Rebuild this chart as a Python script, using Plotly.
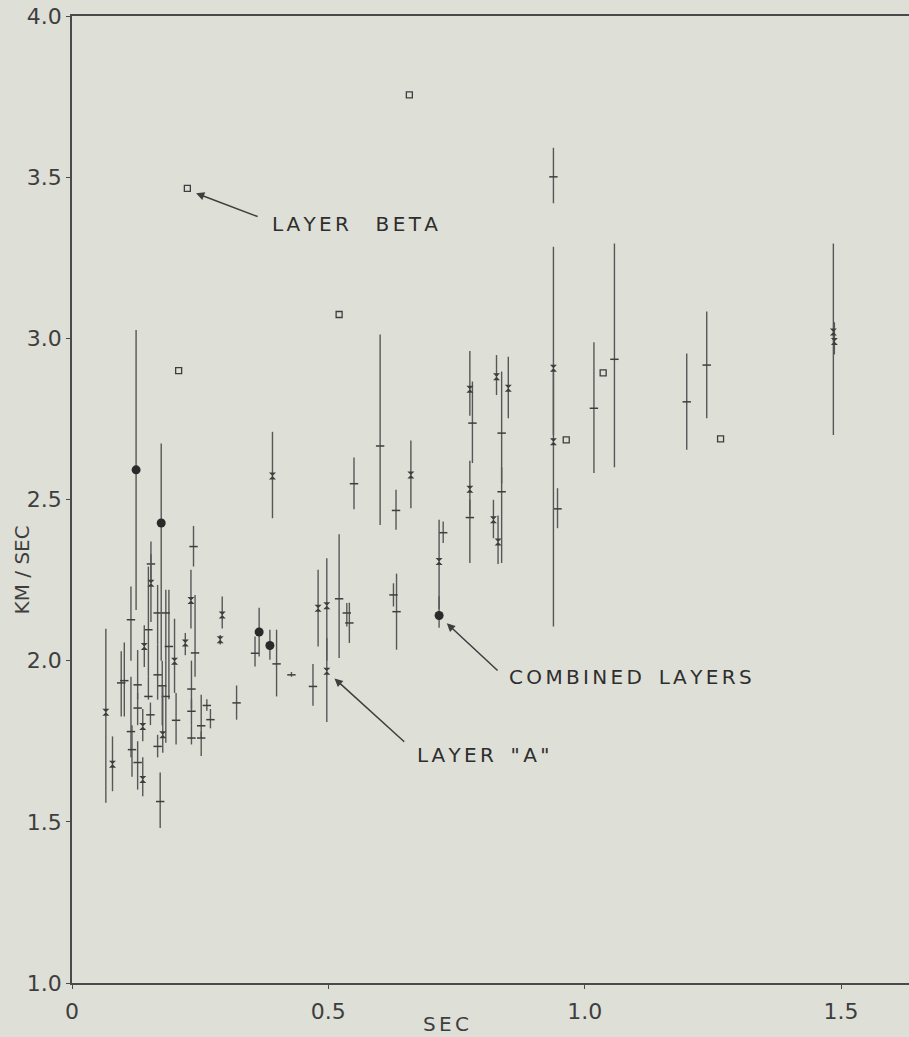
import plotly.graph_objects as go

# ---- data: travel time (sec) vs velocity (km/sec) ----
# "+" readings: time, velocity, upper and lower limits of the bar
plus_sec = [0.096, 0.102, 0.115, 0.115, 0.117, 0.128, 0.128, 0.128, 0.149, 0.149,
            0.153, 0.154, 0.167, 0.167, 0.167, 0.172, 0.176, 0.183, 0.183, 0.189,
            0.203, 0.233, 0.233, 0.233, 0.240, 0.237, 0.252, 0.252, 0.263, 0.270,
            0.321, 0.357, 0.399, 0.428, 0.470, 0.521, 0.536, 0.541, 0.550, 0.601,
            0.627, 0.633, 0.632, 0.724, 0.781, 0.776, 0.838, 0.838, 0.939, 0.947,
            1.018, 1.058, 1.199, 1.238]
plus_kms = [1.931, 1.938, 2.127, 1.780, 1.724, 1.925, 1.853, 1.684, 2.096, 1.889,
            1.832, 2.300, 2.148, 1.956, 1.734, 1.563, 1.922, 2.148, 1.889, 2.044,
            1.815, 1.912, 1.843, 1.760, 2.024, 2.354, 1.798, 1.760, 1.861, 1.817,
            1.869, 2.023, 1.990, 1.956, 1.920, 2.192, 2.148, 2.117, 2.549, 2.666,
            2.204, 2.152, 2.466, 2.397, 2.737, 2.444, 2.706, 2.524, 3.501, 2.471,
            2.783, 2.935, 2.803, 2.917]
plus_hi = [2.029, 2.056, 2.230, 1.950, 1.800, 2.033, 1.900, 1.750, 2.292, 1.950,
           1.870, 2.370, 2.235, 2.050, 1.770, 1.653, 2.000, 2.220, 2.000, 2.220,
           1.900, 2.000, 1.880, 1.800, 2.204, 2.418, 1.894, 1.780, 1.880, 1.850,
           1.923, 2.075, 2.096, 1.965, 1.990, 2.392, 2.179, 2.180, 2.630, 3.012,
           2.240, 2.270, 2.530, 2.432, 2.866, 2.500, 2.897, 2.600, 3.591, 2.535,
           2.988, 3.294, 2.953, 3.083]
plus_lo = [1.827, 1.827, 2.000, 1.700, 1.640, 1.880, 1.800, 1.600, 1.950, 1.879,
           1.800, 2.250, 2.050, 1.879, 1.700, 1.481, 1.800, 2.000, 1.745, 1.880,
           1.740, 1.850, 1.800, 1.740, 1.950, 2.292, 1.760, 1.704, 1.845, 1.790,
           1.817, 1.982, 1.889, 1.950, 1.860, 2.008, 2.106, 2.055, 2.470, 2.421,
           2.168, 2.034, 2.406, 2.365, 2.613, 2.303, 2.550, 2.303, 3.419, 2.411,
           2.582, 2.600, 2.654, 2.752]

# hourglass readings
hg_sec = [0.066, 0.079, 0.138, 0.138, 0.141, 0.154, 0.177, 0.200, 0.221, 0.232,
          0.289, 0.293, 0.391, 0.480, 0.497, 0.497, 0.661, 0.716, 0.776, 0.776,
          0.828, 0.851, 0.822, 0.831, 0.939, 0.939, 1.485, 1.487]
hg_kms = [1.840, 1.679, 1.796, 1.631, 2.044, 2.240, 1.770, 1.998, 2.055, 2.187,
          2.065, 2.142, 2.573, 2.163, 2.170, 1.967, 2.576, 2.308, 2.842, 2.532,
          2.881, 2.845, 2.437, 2.368, 2.907, 2.679, 3.020, 2.990]
hg_hi = [2.099, 1.765, 1.850, 1.700, 2.110, 2.330, 1.920, 2.130, 2.086, 2.282,
         2.080, 2.199, 2.710, 2.282, 2.318, 2.070, 2.683, 2.437, 2.961, 2.620,
         2.948, 2.943, 2.499, 2.450, 3.284, 2.900, 3.294, 3.050]
hg_lo = [1.559, 1.595, 1.750, 1.579, 1.980, 2.120, 1.714, 1.900, 2.017, 2.100,
         2.050, 2.100, 2.442, 2.044, 2.000, 1.810, 2.473, 2.160, 2.760, 2.450,
         2.824, 2.752, 2.380, 2.300, 2.700, 2.106, 2.700, 2.950]

# combined layers (filled circles)
comb_sec = [0.125, 0.174, 0.365, 0.386, 0.716]
comb_kms = [2.592, 2.427, 2.089, 2.047, 2.140]
comb_hi = [3.026, 2.674, 2.164, 2.096, 2.200]
comb_lo = [2.157, 2.000, 2.013, 2.003, 2.102]

# layer beta (open squares)
beta_sec = [0.225, 0.208, 0.521, 0.658, 0.964, 1.036, 1.265]
beta_kms = [3.465, 2.900, 3.074, 3.755, 2.685, 2.893, 2.688]

# axis ticks
x_ticks = [0, 0.5, 1.0, 1.5]
x_tick_text = ["0", "0.5", "1.0", "1.5"]
y_ticks = [1.0, 1.5, 2.0, 2.5, 3.0, 3.5, 4.0]

INK = "#3e3e3e"
BAR = "#575757"
BG = "#dedfd7"
FONT = "DejaVu Sans"
SP = "\u2006"   # narrow letter spacing for the lettered labels
EN = "\u2002"   # word gap
EM = "\u2003"   # wide word gap


def spaced(*words, gap=EN):
    return (SP + gap + SP).join(SP.join(w) for w in words)


def bars(vals, hi, lo):
    return dict(type="data", symmetric=False,
                array=[h - v for v, h in zip(vals, hi)],
                arrayminus=[v - l for v, l in zip(vals, lo)],
                width=0, thickness=1.4, color=BAR)


fig = go.Figure()

fig.add_trace(go.Scatter(
    x=plus_sec, y=plus_kms, mode="markers",
    error_y=bars(plus_kms, plus_hi, plus_lo),
    marker=dict(symbol="line-ew", size=6, color=INK, line=dict(width=1.5, color=INK)),
    showlegend=False))

fig.add_trace(go.Scatter(
    x=hg_sec, y=hg_kms, mode="markers",
    error_y=bars(hg_kms, hg_hi, hg_lo),
    marker=dict(symbol="hourglass", size=7, color=INK, line=dict(width=0)),
    showlegend=False))

fig.add_trace(go.Scatter(
    x=comb_sec, y=comb_kms, mode="markers",
    error_y=bars(comb_kms, comb_hi, comb_lo),
    marker=dict(symbol="circle", size=9, color="#2a2a2a", line=dict(width=0)),
    showlegend=False))

fig.add_trace(go.Scatter(
    x=beta_sec, y=beta_kms, mode="markers",
    marker=dict(symbol="square-open", size=6, color=INK, line=dict(width=1.3, color=INK)),
    showlegend=False))

label_font = dict(family=FONT, size=20, color="#2e2e2e")

annotations = [
    # labels
    dict(x=0.386, y=3.355, xref="x", yref="y",
         text=spaced("LAYER", "BETA", gap=EM), showarrow=False,
         xanchor="left", yanchor="middle", font=label_font),
    dict(x=0.848, y=1.950, xref="x", yref="y",
         text=spaced("COMBINED", "LAYERS"), showarrow=False,
         xanchor="left", yanchor="middle", font=label_font),
    dict(x=0.669, y=1.707, xref="x", yref="y",
         text=spaced("LAYER", "\"A\""), showarrow=False,
         xanchor="left", yanchor="middle", font=label_font),
    # axis titles
    dict(x=0.73, y=-0.0424, xref="x", yref="paper", text=spaced("SEC"), showarrow=False,
         xanchor="center", yanchor="middle", font=dict(family=FONT, size=20, color=INK)),
    dict(x=0, y=2.28, xref="paper", yref="y", xshift=-50, text="KM / SEC",
         showarrow=False, textangle=-90, xanchor="center", yanchor="middle",
         font=dict(family=FONT, size=20, color=INK)),
]

# pointer arrows: head near the mark, tail at the label
arrows = [
    (0.242, 3.450, 0.365, 3.376),
    (0.731, 2.116, 0.833, 1.965),
    (0.512, 1.945, 0.651, 1.744),
]
for hx, hy, tx, ty in arrows:
    annotations.append(dict(x=hx, y=hy, ax=tx, ay=ty, xref="x", yref="y",
                            axref="x", ayref="y", text="", showarrow=True,
                            arrowhead=2, arrowsize=1.1, arrowwidth=1.5,
                            arrowcolor=INK))

fig.update_layout(
    width=909, height=1037,
    margin=dict(l=72, r=0, t=16, b=54),
    paper_bgcolor=BG, plot_bgcolor=BG,
    annotations=annotations,
    xaxis=dict(range=[0, 837 / 512.7], tickvals=x_ticks, ticktext=x_tick_text,
               showgrid=False, zeroline=False, showline=True, linecolor="#4a4a4a",
               linewidth=1.5, mirror=True, ticks="outside", ticklen=4,
               tickcolor="#4a4a4a", ticklabelstandoff=4,
               tickfont=dict(family=FONT, size=22, color=INK)),
    yaxis=dict(range=[1.0, 4.0], tickvals=y_ticks, tickformat=".1f",
               showgrid=False, zeroline=False, showline=True, linecolor="#4a4a4a",
               linewidth=1.5, ticks="outside", ticklen=4, tickcolor="#4a4a4a",
               ticklabelstandoff=0,
               tickfont=dict(family=FONT, size=22, color=INK)),
)

fig.write_html("out.html")
